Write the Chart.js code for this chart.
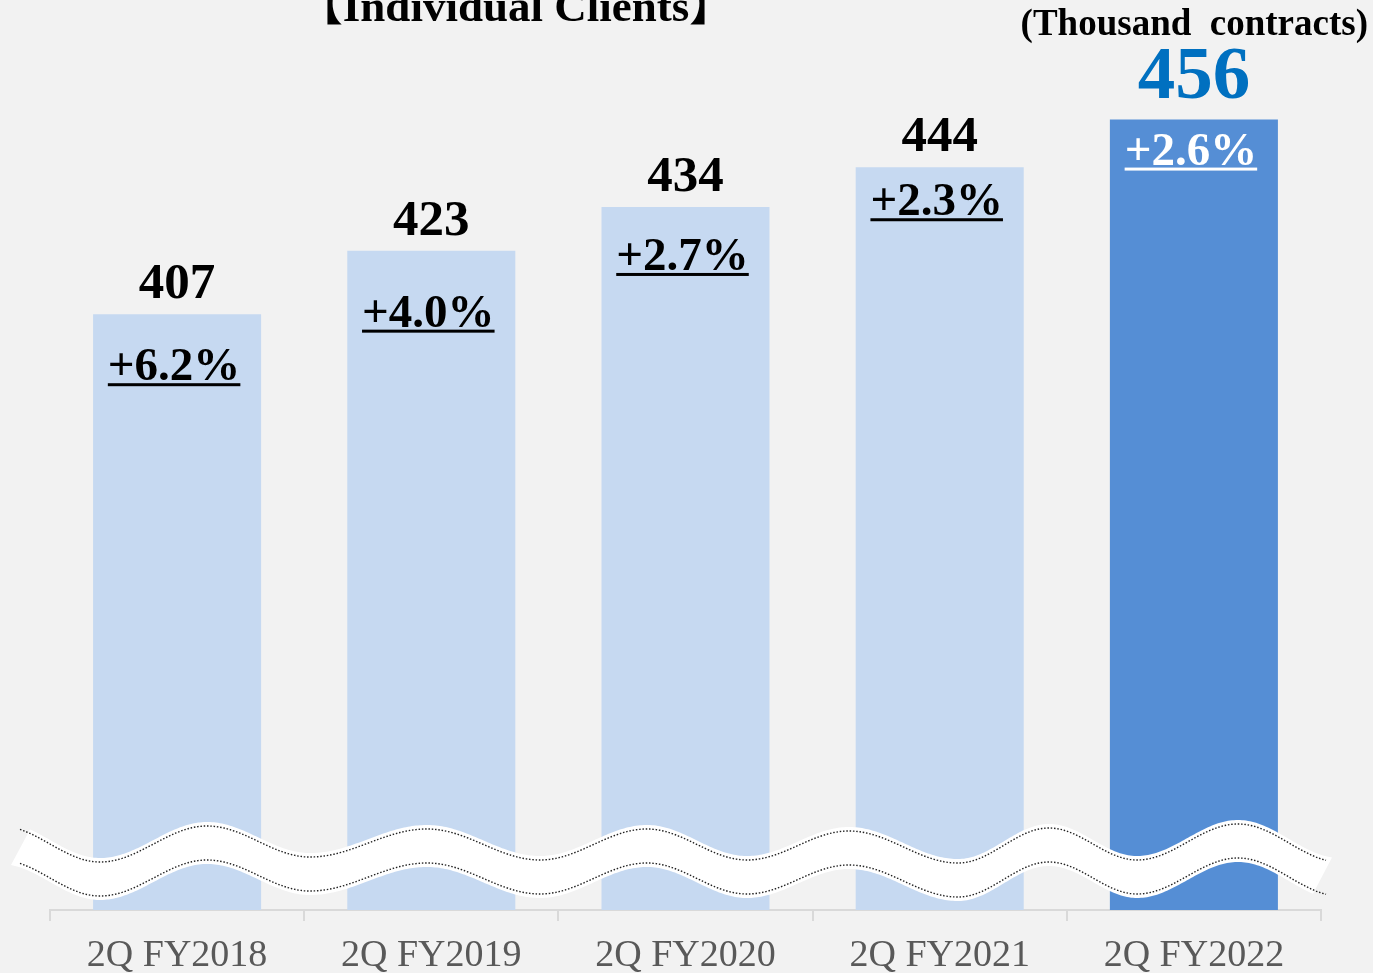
<!DOCTYPE html>
<html>
<head>
<meta charset="utf-8">
<script src="https://cdn.jsdelivr.net/npm/chart.js@4.4.1/dist/chart.umd.min.js"></script>
<style>
  html, body { margin: 0; padding: 0; background: #f2f2f2; overflow: hidden; }
  canvas { display: block; }
</style>
</head>
<body>
<canvas id="chart" width="1373" height="973"></canvas>
<script>
const categories = ['2Q FY2018', '2Q FY2019', '2Q FY2020', '2Q FY2021', '2Q FY2022'];
const clients = [407, 423, 434, 444, 456];
const growth = ['+6.2%', '+4.0%', '+2.7%', '+2.3%', '+2.6%'];
const chartTitle = '【Individual Clients】';
const unitText = '(Thousand  contracts)';

const SERIF = '"Liberation Serif", "Times New Roman", serif';
const lightBar = '#c6d9f1';
const darkBar = '#558ed5';

// how far below each bar top the growth label baseline sits
const growthDrop = [66, 76, 63, 48, 45];

// extrema of the upper edge of the axis-break ribbon
const waveKnots = [[0, 826], [100, 862], [207, 826], [310, 857], [427, 829], [540, 860],
  [647, 829], [747, 860], [849, 831], [958, 863], [1049, 828], [1137, 860], [1238, 824], [1340, 862]];

function waveY(x) {
  for (let i = 0; i < waveKnots.length - 1; i++) {
    const [x0, y0] = waveKnots[i];
    const [x1, y1] = waveKnots[i + 1];
    if (x <= x1 || i === waveKnots.length - 2) {
      const t = Math.max(0, Math.min(1, (x - x0) / (x1 - x0)));
      return y0 + (y1 - y0) * (1 - Math.cos(Math.PI * t)) / 2;
    }
  }
}

function traceEdge(ctx, from, to, off, move) {
  const step = from < to ? 2 : -2;
  let first = move;
  for (let x = from; step > 0 ? x <= to : x >= to; x += step) {
    if (first) { ctx.moveTo(x, waveY(x) + off); first = false; }
    else ctx.lineTo(x, waveY(x) + off);
  }
}

const breakPlugin = {
  id: 'axisBreak',
  afterDatasetsDraw(chart) {
    const ctx = chart.ctx;
    ctx.save();
    // white ribbon
    ctx.beginPath();
    traceEdge(ctx, 30, 1333, -4, true);
    traceEdge(ctx, 1313, 10, 38, false);
    ctx.closePath();
    ctx.fillStyle = '#ffffff';
    ctx.fill();
    // dotted edges
    ctx.strokeStyle = '#222222';
    ctx.lineWidth = 1.4;
    ctx.setLineDash([1.5, 1.8]);
    ctx.beginPath();
    traceEdge(ctx, 20, 1326, 0, true);
    ctx.stroke();
    ctx.beginPath();
    traceEdge(ctx, 20, 1326, 34, true);
    ctx.stroke();
    ctx.restore();
  }
};

const labelPlugin = {
  id: 'barLabels',
  afterDatasetsDraw(chart) {
    const ctx = chart.ctx;
    const meta = chart.getDatasetMeta(0);
    const last = clients.length - 1;
    ctx.save();
    ctx.textAlign = 'center';
    ctx.textBaseline = 'alphabetic';
    meta.data.forEach((bar, i) => {
      // value above bar
      if (i === last) {
        ctx.font = 'bold 75px ' + SERIF;
        ctx.fillStyle = '#0070c0';
        ctx.fillText(String(clients[i]), bar.x, bar.y - 22);
      } else {
        ctx.font = 'bold 51px ' + SERIF;
        ctx.fillStyle = '#000000';
        ctx.fillText(String(clients[i]), bar.x, bar.y - 16);
      }
      // growth rate inside bar, underlined
      ctx.font = 'bold 47px ' + SERIF;
      ctx.fillStyle = i === last ? '#ffffff' : '#000000';
      const base = bar.y + growthDrop[i];
      const w = ctx.measureText(growth[i]).width;
      ctx.fillText(growth[i], bar.x - 3, base);
      ctx.fillRect(bar.x - 3 - w / 2, base + 3, w, 3);
    });
    ctx.restore();
  },
  afterDraw(chart) {
    const ctx = chart.ctx;
    ctx.save();
    ctx.fillStyle = '#000000';
    ctx.textBaseline = 'alphabetic';
    ctx.font = 'bold 45px ' + SERIF + ', "Noto Sans CJK JP"';
    ctx.textAlign = 'center';
    ctx.fillText(chartTitle, 516, 21);
    ctx.font = 'bold 37px ' + SERIF;
    ctx.textAlign = 'right';
    ctx.fillText(unitText, 1368, 35);
    ctx.restore();
  }
};

new Chart(document.getElementById('chart'), {
  type: 'bar',
  data: {
    labels: categories,
    datasets: [{
      data: clients,
      backgroundColor: clients.map((v, i) => i === clients.length - 1 ? darkBar : lightBar),
      borderWidth: 0,
      categoryPercentage: 1,
      barPercentage: 0.661,
    }],
  },
  options: {
    responsive: false,
    animation: false,
    devicePixelRatio: 1,
    layout: { padding: { left: 50, right: 52, top: 60, bottom: -18 } },
    scales: {
      x: {
        grid: { offset: true, drawOnChartArea: false, tickLength: 11, color: '#d9d9d9', lineWidth: 2 },
        border: { color: '#d9d9d9', width: 2 },
        ticks: { color: '#595959', padding: 16, font: { family: SERIF, size: 38, lineHeight: 1 } },
      },
      y: {
        display: false,
        min: 257,
        max: 471,
      },
    },
    plugins: { legend: { display: false }, tooltip: { enabled: false }, title: { display: false } },
  },
  plugins: [breakPlugin, labelPlugin],
});
</script>
</body>
</html>
